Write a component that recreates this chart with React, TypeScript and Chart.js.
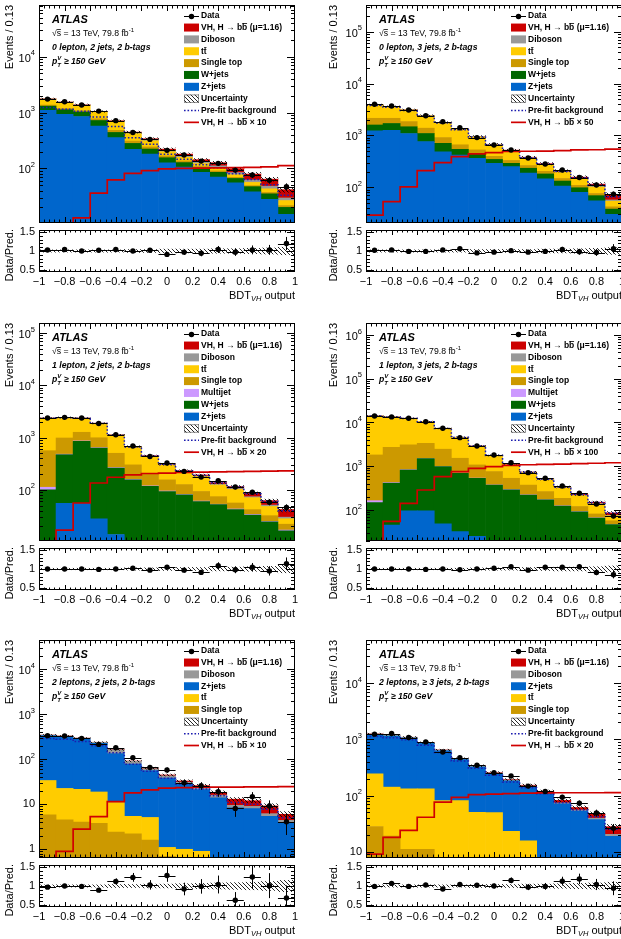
import React, { useEffect, useRef } from 'react';
import { Chart, registerables } from 'chart.js';

Chart.register(...registerables);

/* ================= Binning: BDT_VH output, 15 bins of 0.133 ================= */
const BIN_EDGES = [-1, -0.8667, -0.7333, -0.6, -0.4667, -0.3333, -0.2, -0.0667, 0.0667, 0.2, 0.3333, 0.4667, 0.6, 0.7333, 0.8667, 1];
const BIN_CENTERS = [-0.9333, -0.8, -0.6667, -0.5333, -0.4, -0.2667, -0.1333, 0, 0.1333, 0.2667, 0.4, 0.5333, 0.6667, 0.8, 0.9333];
const X_TICK_VALUES = [-1, -0.8, -0.6, -0.4, -0.2, 0, 0.2, 0.4, 0.6, 0.8, 1];
const X_TICK_LABELS = ['−1', '−0.8', '−0.6', '−0.4', '−0.2', '0', '0.2', '0.4', '0.6', '0.8', '1'];
const RATIO_TICK_VALUES = [0.5, 1, 1.5];
const RATIO_TICK_LABELS = ['0.5', '1', '1.5'];

/* ================= Panel 1: 0 lepton, 2 jets ================= */
const P1_DATA = [1740, 1560, 1360, 1060, 715, 440, 330, 210, 173, 135, 123, 93, 76, 61, 47];
const P1_ZJETS = [1100, 930, 850, 570, 355, 220, 180, 125, 105, 85, 70, 55, 38, 28, 15];
const P1_WJETS = [200, 190, 170, 150, 85, 60, 42, 30, 22, 17, 15, 11, 9, 7, 5];
const P1_STOP = [60, 60, 55, 50, 40, 28, 20, 12, 9, 6, 5, 3, 2, 2, 1.5];
const P1_TTBAR = [370, 330, 270, 240, 200, 110, 70, 32, 22, 14, 12, 8, 7, 6, 5];
const P1_DIBOSON = [25, 25, 25, 25, 22, 18, 15, 10, 10, 9, 9, 7, 6, 5, 3];
const P1_VH = [5, 7, 8, 8, 10, 10, 12, 12, 12, 12, 15, 14, 17, 16, 12];
const P1_SIGNAL = [3, 8, 13, 36, 62, 81, 91, 98, 100, 101, 102, 103, 104, 106, 112];
const P1_PREFIT = [1230, 1150, 1050, 830, 560, 355, 270, 178, 146, 116, 102, 80, 63, 51, 33];
const P1_UNC = [0.03, 0.03, 0.03, 0.03, 0.03, 0.04, 0.04, 0.05, 0.05, 0.05, 0.06, 0.06, 0.07, 0.08, 0.1];
const P1_RATIO = [1.03, 1.04, 1.0, 1.02, 1.04, 1.0, 1.02, 0.91, 0.97, 0.94, 1.04, 0.97, 1.03, 1.03, 1.2];

/* ================= Panel 2: 0 lepton, 3 jets ================= */
const P2_DATA = [3980, 3700, 3100, 2400, 1840, 1410, 908, 655, 525, 368, 282, 216, 154, 111, 74];
const P2_ZJETS = [1230, 1260, 1090, 760, 485, 420, 362, 290, 250, 187, 145, 105, 80, 55, 30];
const P2_WJETS = [360, 440, 380, 330, 220, 120, 90, 55, 40, 46, 36, 27, 18, 14, 8];
const P2_STOP = [550, 440, 380, 290, 205, 120, 75, 50, 40, 30, 22, 16, 11, 7, 4];
const P2_TTBAR = [1718, 1410, 1243, 1010, 846, 645, 406, 260, 172, 101, 67, 46, 35, 25, 12];
const P2_DIBOSON = [40, 40, 35, 30, 25, 20, 15, 12, 10, 8, 7, 6, 5, 4, 3];
const P2_VH = [2, 2, 3, 4, 5, 5, 7, 8, 8, 8, 8, 8, 8, 10, 15];
const P2_SIGNAL = [29, 53, 102, 210, 300, 390, 440, 465, 490, 495, 500, 510, 525, 530, 546];
const P2_PREFIT = [3780, 3480, 3030, 2350, 1740, 1290, 930, 655, 505, 370, 277, 202, 152, 110, 66];
const P2_UNC = [0.03, 0.03, 0.03, 0.03, 0.03, 0.03, 0.04, 0.04, 0.04, 0.04, 0.05, 0.05, 0.06, 0.07, 0.09];
const P2_RATIO = [1.02, 1.03, 0.99, 0.99, 1.03, 1.06, 0.95, 0.97, 1.01, 0.97, 0.99, 1.04, 0.98, 0.96, 1.06];

/* ================= Panel 3: 1 lepton, 2 jets ================= */
const P3_DATA = [2360, 2430, 2360, 1860, 1130, 687, 435, 325, 225, 175, 149, 113, 90, 58, 46];
const P3_ZJETS = [3, 55, 55, 28, 14, 5, 3, 2, 2, 1.5, 1, 1, 0.8, 0.5, 0.5];
const P3_WJETS = [97, 415, 795, 602, 246, 150, 113, 91, 78, 58, 51, 41, 32, 24, 16];
const P3_MULTIJET = [12, 10, 12, 10, 6, 4, 3, 2, 2, 1.5, 1, 1, 1, 0.5, 0.5];
const P3_STOP = [448, 500, 398, 350, 234, 141, 86, 60, 44, 32, 21, 13, 8, 7, 5];
const P3_TTBAR = [1782, 1431, 1080, 869, 611, 357, 227, 141, 93, 86, 50, 46, 29, 16, 6];
const P3_DIBOSON = [15, 15, 15, 15, 12, 10, 8, 6, 5, 5, 4, 4, 3, 3, 2];
const P3_VH = [3, 4, 5, 6, 7, 7, 8, 8, 8, 8, 9, 9, 12, 11, 12];
const P3_SIGNAL = [4, 17, 56, 135, 174, 193, 205, 208, 215, 218, 220, 222, 225, 228, 230];
const P3_PREFIT = [2330, 2400, 2330, 1850, 1110, 660, 440, 305, 228, 188, 135, 113, 84, 60, 40];
const P3_UNC = [0.02, 0.02, 0.02, 0.02, 0.02, 0.03, 0.03, 0.04, 0.04, 0.04, 0.05, 0.05, 0.06, 0.07, 0.1];
const P3_RATIO = [1.0, 1.0, 1.0, 0.99, 1.0, 1.02, 0.97, 1.05, 0.97, 0.91, 1.09, 0.98, 1.05, 0.95, 1.14];

/* ================= Panel 4: 1 lepton, 3 jets ================= */
const P4_DATA = [14100, 13400, 12500, 10400, 7360, 4500, 2900, 1810, 1200, 713, 530, 353, 241, 137, 73];
const P4_ZJETS = [2, 45, 95, 95, 48, 32, 25, 12, 8, 6, 5, 4, 3, 2, 1];
const P4_WJETS = [146, 365, 725, 1405, 932, 658, 505, 358, 282, 214, 165, 119, 88, 63, 45];
const P4_MULTIJET = [15, 12, 15, 15, 12, 8, 5, 4, 3, 2, 2, 1.5, 1, 1, 0.5];
const P4_STOP = [1647, 2278, 2245, 1815, 1458, 822, 535, 381, 237, 148, 91, 60, 28, 15, 10];
const P4_TTBAR = [12227, 10636, 9360, 7114, 4862, 3032, 1801, 996, 581, 348, 226, 136, 93, 56, 17];
const P4_DIBOSON = [60, 60, 55, 50, 40, 30, 20, 15, 10, 8, 6, 5, 4, 3, 2];
const P4_VH = [3, 4, 5, 6, 8, 8, 9, 9, 9, 9, 10, 10, 10, 10, 10];
const P4_SIGNAL = [5, 55, 142, 286, 580, 750, 890, 980, 1050, 1080, 1100, 1120, 1150, 1170, 1200];
const P4_PREFIT = [14000, 13300, 12400, 10400, 7300, 4550, 2880, 1760, 1120, 725, 500, 333, 225, 148, 85];
const P4_UNC = [0.02, 0.02, 0.02, 0.02, 0.02, 0.02, 0.03, 0.03, 0.03, 0.04, 0.04, 0.05, 0.05, 0.06, 0.08];
const P4_RATIO = [1.0, 1.0, 1.0, 0.99, 1.0, 0.98, 1.0, 1.02, 1.06, 0.97, 1.05, 1.05, 1.06, 0.91, 0.85];

/* ================= Panel 5: 2 leptons, 2 jets ================= */
const P5_DATA = [336, 330, 293, 215, 182, 109, 66, 58, 30, 26, 19, 8.1, 14.8, 9.2, 4.1];
const P5_STOP = [5.8, 4.5, 4, 3.8, 2.4, 2.2, 1.6, 0.7, 0.6, 0.5, 0.4, 0.3, 0.3, 0.2, 0.2];
const P5_TTBAR = [28, 18, 17.5, 15, 8.6, 3.2, 3.5, 0.4, 0.4, 0.4, 0.2, 0.1, 0.1, 0.1, 0.1];
const P5_ZJETS = [302, 297, 264, 208, 123, 73, 51, 37, 27, 20.4, 13.4, 7.9, 7.6, 5.1, 3.6];
const P5_DIBOSON = [10, 10, 10, 12, 30, 12, 6, 5, 3, 2.5, 2, 1.2, 1, 0.8, 0.5];
const P5_VH = [0.3, 0.5, 0.6, 0.8, 1, 1.2, 1.5, 1.8, 2, 2.2, 2.5, 3.5, 3, 3, 1.6];
const P5_SIGNAL = [0.3, 0.9, 2.8, 5.3, 11.5, 18, 21, 23, 23.5, 24, 24, 24.2, 24.4, 24.5, 24.6];
const P5_PREFIT = [290, 280, 250, 200, 140, 78, 54, 38, 28, 22, 15.5, 11, 10, 7.8, 5];
const P5_UNC = [0.03, 0.03, 0.03, 0.03, 0.04, 0.04, 0.05, 0.05, 0.06, 0.07, 0.08, 0.09, 0.1, 0.12, 0.15];
const P5_RATIO = [0.97, 1.0, 0.99, 0.89, 1.12, 1.23, 1.03, 1.28, 0.92, 0.99, 1.04, 0.62, 1.24, 1.01, 0.68];

/* ================= Panel 6: 2 leptons, >=3 jets ================= */
const P6_DATA = [1240, 1270, 1080, 902, 597, 473, 345, 255, 222, 147, 118, 93, 73, 49, 26];
const P6_STOP = [28, 19, 11, 11, 5, 4, 3, 2.5, 2, 1.5, 1, 0.8, 0.6, 0.4, 0.3];
const P6_TTBAR = [216, 122, 121, 121, 76, 77, 47, 47, 21, 14, 6, 5, 3, 2, 1.5];
const P6_ZJETS = [968, 1005, 928, 717, 546, 357, 273, 195, 160, 128, 103, 65, 49, 35, 17];
const P6_DIBOSON = [40, 40, 30, 25, 20, 15, 12, 8, 6, 5, 4, 3, 2.5, 2, 1.5];
const P6_VH = [1, 1, 1.5, 2, 2, 2.5, 3, 3, 3.5, 4, 5, 8, 6, 8, 7.5];
const P6_SIGNAL = [9, 18, 24, 41, 76, 93, 104, 106, 108, 110, 111, 112, 112, 112, 113];
const P6_PREFIT = [1130, 1070, 985, 790, 585, 410, 305, 230, 174, 137, 107, 74, 55, 42, 25];
const P6_UNC = [0.03, 0.03, 0.03, 0.03, 0.03, 0.03, 0.04, 0.04, 0.04, 0.05, 0.05, 0.06, 0.07, 0.08, 0.1];
const P6_RATIO = [0.99, 1.07, 0.99, 1.03, 0.92, 1.04, 1.02, 1.0, 1.15, 0.97, 0.99, 1.13, 1.19, 1.04, 0.94];

/* ================= Styles ================= */
const FONT_FAMILY = "'Liberation Sans', Arial, Helvetica, sans-serif";
const font = (size: number, style = '') => `${style} ${size}px ${FONT_FAMILY}`.trim();

const COLORS = {
  vh: '#cc0000',
  diboson: '#999999',
  ttbar: '#ffcc00',
  stop: '#cc9900',
  multijet: '#cc99ff',
  wjets: '#006600',
  zjets: '#0066cc',
  signal: '#d00000',
  prefit: '#1c1cb0',
};

type Seg = { t: string; size?: number; style?: string; dy?: number; bar?: boolean; hold?: boolean };

const COMPONENTS: Record<string, { color: string; label: Seg[] }> = {
  vh: { color: COLORS.vh, label: [{ t: 'VH, H → b' }, { t: 'b', bar: true }, { t: ' (μ=1.16)' }] },
  diboson: { color: COLORS.diboson, label: [{ t: 'Diboson' }] },
  ttbar: { color: COLORS.ttbar, label: [{ t: 't' }, { t: 't', bar: true }] },
  stop: { color: COLORS.stop, label: [{ t: 'Single top' }] },
  multijet: { color: COLORS.multijet, label: [{ t: 'Multijet' }] },
  wjets: { color: COLORS.wjets, label: [{ t: 'W+jets' }] },
  zjets: { color: COLORS.zjets, label: [{ t: 'Z+jets' }] },
};

/* ================= Panels ================= */
const PANELS = [
  {
    col: 0, row: 0, region: '0 lepton, 2 jets, 2 b-tags', sigScale: '10', yMin: 10.5, yMax: 84300,
    stack: [
      { name: 'zjets', values: P1_ZJETS }, { name: 'wjets', values: P1_WJETS }, { name: 'stop', values: P1_STOP },
      { name: 'ttbar', values: P1_TTBAR }, { name: 'diboson', values: P1_DIBOSON }, { name: 'vh', values: P1_VH },
    ],
    data: P1_DATA, ratio: P1_RATIO, unc: P1_UNC, prefit: P1_PREFIT, signal: P1_SIGNAL,
  },
  {
    col: 1, row: 0, region: '0 lepton, 3 jets, 2 b-tags', sigScale: '50', yMin: 20.5, yMax: 327000,
    stack: [
      { name: 'zjets', values: P2_ZJETS }, { name: 'wjets', values: P2_WJETS }, { name: 'stop', values: P2_STOP },
      { name: 'ttbar', values: P2_TTBAR }, { name: 'diboson', values: P2_DIBOSON }, { name: 'vh', values: P2_VH },
    ],
    data: P2_DATA, ratio: P2_RATIO, unc: P2_UNC, prefit: P2_PREFIT, signal: P2_SIGNAL,
  },
  {
    col: 0, row: 1, region: '1 lepton, 2 jets, 2 b-tags', sigScale: '20', yMin: 10.5, yMax: 155000,
    stack: [
      { name: 'zjets', values: P3_ZJETS }, { name: 'wjets', values: P3_WJETS }, { name: 'multijet', values: P3_MULTIJET },
      { name: 'stop', values: P3_STOP }, { name: 'ttbar', values: P3_TTBAR }, { name: 'diboson', values: P3_DIBOSON },
      { name: 'vh', values: P3_VH },
    ],
    data: P3_DATA, ratio: P3_RATIO, unc: P3_UNC, prefit: P3_PREFIT, signal: P3_SIGNAL,
  },
  {
    col: 1, row: 1, region: '1 lepton, 3 jets, 2 b-tags', sigScale: '100', yMin: 19.5, yMax: 1880000,
    stack: [
      { name: 'zjets', values: P4_ZJETS }, { name: 'wjets', values: P4_WJETS }, { name: 'multijet', values: P4_MULTIJET },
      { name: 'stop', values: P4_STOP }, { name: 'ttbar', values: P4_TTBAR }, { name: 'diboson', values: P4_DIBOSON },
      { name: 'vh', values: P4_VH },
    ],
    data: P4_DATA, ratio: P4_RATIO, unc: P4_UNC, prefit: P4_PREFIT, signal: P4_SIGNAL,
  },
  {
    col: 0, row: 2, region: '2 leptons, 2 jets, 2 b-tags', sigScale: '10', yMin: 0.64, yMax: 45000,
    stack: [
      { name: 'stop', values: P5_STOP }, { name: 'ttbar', values: P5_TTBAR }, { name: 'zjets', values: P5_ZJETS },
      { name: 'diboson', values: P5_DIBOSON }, { name: 'vh', values: P5_VH },
    ],
    data: P5_DATA, ratio: P5_RATIO, unc: P5_UNC, prefit: P5_PREFIT, signal: P5_SIGNAL,
  },
  {
    col: 1, row: 2, region: '2 leptons, ≥ 3 jets, 2 b-tags', sigScale: '20', yMin: 7.7, yMax: 59000,
    stack: [
      { name: 'stop', values: P6_STOP }, { name: 'ttbar', values: P6_TTBAR }, { name: 'zjets', values: P6_ZJETS },
      { name: 'diboson', values: P6_DIBOSON }, { name: 'vh', values: P6_VH },
    ],
    data: P6_DATA, ratio: P6_RATIO, unc: P6_UNC, prefit: P6_PREFIT, signal: P6_SIGNAL,
  },
];

/* ================= Layout ================= */
const COL_X = [0, 310];
const COL_W = [310, 320];
const FRAME_LEFT = [39, 366];
const YTITLE_X = [10, 334];
const ROW_TOP = [5, 323, 640];
const FRAME_W = 256;
const MAIN_H = 218;
const RATIO_OFFSET = 225;
const RATIO_H = 42;
const PAD_T = 5;
const RATIO_MIN = 0.44;
const RATIO_MAX = 1.56;
const STACK_FLOOR = 1e-3;

/* ================= Helpers ================= */
function makeHatch(target: CanvasRenderingContext2D) {
  const c = document.createElement('canvas');
  c.width = 4; c.height = 4;
  const g = c.getContext('2d')!;
  g.strokeStyle = '#000';
  g.lineWidth = 0.85;
  g.beginPath();
  g.moveTo(-1, -1); g.lineTo(5, 5);
  g.moveTo(-1, 3); g.lineTo(1, 5);
  g.moveTo(3, -1); g.lineTo(5, 1);
  g.stroke();
  return target.createPattern(c, 'repeat');
}

function stepPoints(values: number[]) {
  return BIN_EDGES.map((x, i) => ({ x, y: values[Math.min(i, values.length - 1)] }));
}

function stackLayers(stack: { name: string; values: number[] }[]) {
  const run = BIN_CENTERS.map(() => 0);
  const layers = stack.map((s) => {
    const seg = s.values.map((v, i) => {
      const lo = run[i];
      run[i] = lo + v;
      return [lo > 0 ? lo : STACK_FLOOR, run[i]];
    });
    return { name: s.name, seg };
  });
  return { layers, totals: run.slice() };
}

function measureSegs(ctx: CanvasRenderingContext2D, segs: Seg[], baseSize: number, baseStyle: string) {
  let w = 0, held = 0;
  for (const s of segs) {
    ctx.font = font(s.size ?? baseSize, s.style ?? baseStyle);
    const sw = ctx.measureText(s.t).width;
    if (s.hold) held = sw; else { w += Math.max(sw, held); held = 0; }
  }
  return w;
}

function drawSegs(ctx: CanvasRenderingContext2D, segs: Seg[], x: number, y: number, baseSize: number, baseStyle: string) {
  let cx = x, held = 0;
  ctx.textAlign = 'left';
  ctx.textBaseline = 'middle';
  for (const s of segs) {
    const size = s.size ?? baseSize;
    ctx.font = font(size, s.style ?? baseStyle);
    const w = ctx.measureText(s.t).width;
    const yy = y + (s.dy || 0);
    ctx.fillText(s.t, cx, yy);
    if (s.bar) {
      const by = Math.round(yy - size * 0.55) + 0.5;
      ctx.save();
      ctx.lineWidth = 0.8;
      ctx.strokeStyle = ctx.fillStyle as string;
      ctx.beginPath(); ctx.moveTo(cx + 0.3, by); ctx.lineTo(cx + w - 0.2, by); ctx.stroke();
      ctx.restore();
    }
    if (s.hold) held = w; else { cx += Math.max(w, held); held = 0; }
  }
  return cx - x;
}

function line(ctx: CanvasRenderingContext2D, x1: number, y1: number, x2: number, y2: number) {
  ctx.beginPath(); ctx.moveTo(x1, y1); ctx.lineTo(x2, y2); ctx.stroke();
}

function drawFrame(ctx: CanvasRenderingContext2D, a: any) {
  ctx.strokeStyle = '#000';
  ctx.lineWidth = 1;
  ctx.setLineDash([]);
  ctx.strokeRect(Math.round(a.left) + 0.5, Math.round(a.top) + 0.5, Math.round(a.right - a.left) - 1, Math.round(a.bottom - a.top) - 1);
}

function drawXTicks(ctx: CanvasRenderingContext2D, x: any, a: any, major: number, minor: number) {
  ctx.lineWidth = 1;
  for (let k = 0; k <= 50; k++) {
    const v = -1 + k * 0.04;
    const len = k % 5 === 0 ? major : minor;
    const px = Math.min(Math.round(x.getPixelForValue(v)), Math.round(a.right) - 1) + 0.5;
    line(ctx, px, a.bottom, px, a.bottom - len);
    line(ctx, px, a.top, px, a.top + len);
  }
}

function drawYTickAt(ctx: CanvasRenderingContext2D, py: number, a: any, len: number) {
  const yy = Math.round(py) + 0.5;
  line(ctx, a.left, yy, a.left + len, yy);
  line(ctx, a.right, yy, a.right - len, yy);
}

function drawYTitle(ctx: CanvasRenderingContext2D, text: string, x: number, yTop: number) {
  ctx.save();
  ctx.translate(x, yTop);
  ctx.rotate(-Math.PI / 2);
  ctx.font = font(11);
  ctx.fillStyle = '#000';
  ctx.textAlign = 'right';
  ctx.textBaseline = 'middle';
  ctx.fillText(text, 0, 0);
  ctx.restore();
}

function drawErrorCross(ctx: CanvasRenderingContext2D, x: any, y: any, i: number, v: number, lo: number, hi: number, a: any) {
  const xl = x.getPixelForValue(BIN_EDGES[i]);
  const xr = x.getPixelForValue(BIN_EDGES[i + 1]);
  const xc = Math.round(x.getPixelForValue(BIN_CENTERS[i])) + 0.5;
  const yc = Math.round(y.getPixelForValue(v)) + 0.5;
  const yl = lo > 0 ? y.getPixelForValue(lo) : a.bottom + 5;
  const yh = y.getPixelForValue(hi);
  ctx.beginPath();
  ctx.moveTo(xl, yc); ctx.lineTo(xr, yc);
  ctx.moveTo(xc, yl); ctx.lineTo(xc, yh);
  ctx.stroke();
}

/* ================= Plugins ================= */
function mainPlugin(p: any, hatch: any, titleX: number) {
  return {
    id: 'atlasMain',
    afterDatasetsDraw(chart: any) {
      const { ctx, chartArea: a } = chart;
      const x = chart.scales.x, y = chart.scales.y;
      ctx.save();
      ctx.beginPath(); ctx.rect(a.left, a.top, a.right - a.left, a.bottom - a.top); ctx.clip();
      ctx.strokeStyle = '#000'; ctx.lineWidth = 1; ctx.setLineDash([]);
      p.data.forEach((d: number, i: number) => {
        const e = Math.sqrt(d);
        drawErrorCross(ctx, x, y, i, d, d - e, d + e, a);
      });
      ctx.restore();
    },
    afterDraw(chart: any) {
      const { ctx, chartArea: a } = chart;
      const x = chart.scales.x, y = chart.scales.y;
      ctx.save();
      ctx.fillStyle = '#000';
      drawFrame(ctx, a);
      drawXTicks(ctx, x, a, 6, 3.5);
      // log ticks
      const e0 = Math.floor(Math.log10(p.yMin)), e1 = Math.ceil(Math.log10(p.yMax));
      for (let e = e0; e <= e1; e++) {
        for (let m = 1; m <= 9; m++) {
          const v = m * Math.pow(10, e);
          if (v < p.yMin || v > p.yMax) continue;
          drawYTickAt(ctx, y.getPixelForValue(v), a, m === 1 ? 8 : 4);
        }
        const v = Math.pow(10, e);
        if (v < p.yMin || v > p.yMax) continue;
        const py = y.getPixelForValue(v);
        const xr = a.left - 4;
        ctx.textBaseline = 'middle';
        if (e <= 1) {
          ctx.font = font(11); ctx.textAlign = 'right';
          ctx.fillText(e === 0 ? '1' : '10', xr, py);
        } else {
          ctx.font = font(7.5);
          const es = String(e);
          const ws = ctx.measureText(es).width;
          ctx.textAlign = 'left';
          ctx.fillText(es, xr - ws, py - 3.5);
          ctx.font = font(11); ctx.textAlign = 'right';
          ctx.fillText('10', xr - ws, py + 2);
        }
      }
      drawYTitle(ctx, 'Events / 0.13', titleX, a.top);

      // ATLAS labels
      const x0 = a.left + 13;
      ctx.textAlign = 'left'; ctx.textBaseline = 'middle';
      ctx.font = font(11, 'italic bold');
      ctx.fillText('ATLAS', x0, a.top + 15);
      drawSegs(ctx, [{ t: '√' }, { t: 's', bar: true }, { t: ' = 13 TeV, 79.8 fb' }, { t: '-1', size: 6, dy: -3.5 }], x0, a.top + 29, 8.7, '');
      drawSegs(ctx, [{ t: p.region }], x0, a.top + 43, 8.7, 'italic bold');
      drawSegs(ctx, [
        { t: 'p' },
        { t: 'V', size: 6, dy: -3.5, hold: true },
        { t: 'T', size: 6, dy: 3 },
        { t: ' ≥ 150 GeV' },
      ], x0, a.top + 57, 8.7, 'italic bold');

      // legend
      const entries: any[] = [{ kind: 'data', label: [{ t: 'Data' }] }];
      p.stack.slice().reverse().forEach((s: any) => entries.push({ kind: 'box', color: COMPONENTS[s.name].color, label: COMPONENTS[s.name].label }));
      entries.push({ kind: 'hatch', label: [{ t: 'Uncertainty' }] });
      entries.push({ kind: 'dotted', label: [{ t: 'Pre-fit background' }] });
      entries.push({ kind: 'line', label: [{ t: 'VH, H → b' }, { t: 'b', bar: true }, { t: ' × ' + p.sigScale }] });
      const bx = a.left + 145, bw = 15, bh = 8, tx = a.left + 162;
      entries.forEach((en, i) => {
        const cy = a.top + 10.7 + i * 11.85;
        ctx.save();
        if (en.kind === 'data') {
          ctx.strokeStyle = '#000'; ctx.lineWidth = 1;
          line(ctx, bx, Math.round(cy) + 0.5, bx + bw, Math.round(cy) + 0.5);
          ctx.fillStyle = '#000';
          ctx.beginPath(); ctx.arc(bx + bw / 2, Math.round(cy) + 0.5, 2.7, 0, Math.PI * 2); ctx.fill();
        } else if (en.kind === 'box') {
          ctx.fillStyle = en.color;
          ctx.fillRect(bx, cy - bh / 2, bw, bh);
        } else if (en.kind === 'hatch') {
          ctx.fillStyle = '#fff';
          ctx.fillRect(bx, cy - bh / 2, bw, bh);
          ctx.fillStyle = hatch;
          ctx.fillRect(bx, cy - bh / 2, bw, bh);
          ctx.strokeStyle = '#555'; ctx.lineWidth = 0.6;
          ctx.strokeRect(bx + 0.3, cy - bh / 2 + 0.3, bw - 0.6, bh - 0.6);
        } else if (en.kind === 'dotted') {
          ctx.strokeStyle = COLORS.prefit; ctx.lineWidth = 1.5; ctx.setLineDash([1.6, 1.9]);
          line(ctx, bx, cy, bx + bw, cy);
        } else if (en.kind === 'line') {
          ctx.strokeStyle = COLORS.signal; ctx.lineWidth = 1.7;
          line(ctx, bx, cy, bx + bw, cy);
        }
        ctx.restore();
        ctx.fillStyle = '#000';
        drawSegs(ctx, en.label, tx, cy, 8.5, 'bold');
      });
      ctx.restore();
    },
  };
}

function ratioPlugin(p: any, titleX: number) {
  return {
    id: 'atlasRatio',
    afterDatasetsDraw(chart: any) {
      const { ctx, chartArea: a } = chart;
      const x = chart.scales.x, y = chart.scales.y;
      ctx.save();
      ctx.beginPath(); ctx.rect(a.left, a.top, a.right - a.left, a.bottom - a.top); ctx.clip();
      ctx.strokeStyle = '#000'; ctx.lineWidth = 1; ctx.setLineDash([]);
      p.ratio.forEach((r: number, i: number) => {
        const e = r / Math.sqrt(p.data[i]);
        drawErrorCross(ctx, x, y, i, r, r - e, r + e, a);
      });
      ctx.restore();
    },
    afterDraw(chart: any) {
      const { ctx, chartArea: a } = chart;
      const x = chart.scales.x, y = chart.scales.y;
      ctx.save();
      ctx.fillStyle = '#000';
      drawFrame(ctx, a);
      drawXTicks(ctx, x, a, 5, 2.5);
      for (let k = 0; k <= 10; k++) {
        const v = 0.5 + k * 0.1;
        drawYTickAt(ctx, y.getPixelForValue(v), a, k % 5 === 0 ? 8 : 4);
      }
      ctx.font = font(11);
      ctx.textBaseline = 'middle';
      ctx.textAlign = 'right';
      RATIO_TICK_VALUES.forEach((v, i) => ctx.fillText(RATIO_TICK_LABELS[i], a.left - 4, y.getPixelForValue(v)));
      ctx.textAlign = 'center';
      X_TICK_VALUES.forEach((v, i) => ctx.fillText(X_TICK_LABELS[i], x.getPixelForValue(v), a.bottom + 10));
      const title: Seg[] = [{ t: 'BDT' }, { t: 'VH', size: 7.5, style: 'italic', dy: 3 }, { t: ' output' }];
      const w = measureSegs(ctx, title, 11, '');
      ctx.fillStyle = '#000';
      drawSegs(ctx, title, a.right - w, a.bottom + 24, 11, '');
      drawYTitle(ctx, 'Data/Pred.', titleX, a.top - 1);
      ctx.restore();
    },
  };
}

/* ================= Chart configs ================= */
const BAR_COMMON = { borderWidth: 0, grouped: false, barPercentage: 1, categoryPercentage: 1 };

function baseOptions(padding: any, yScale: any) {
  return {
    responsive: false,
    animation: false,
    devicePixelRatio: 1,
    events: [],
    layout: { padding },
    plugins: { legend: { display: false }, tooltip: { enabled: false }, title: { display: false } },
    scales: {
      x: { type: 'linear', min: -1, max: 1, offset: false, bounds: 'data', display: false, ticks: { stepSize: 0.5 } },
      y: yScale,
    },
  };
}

function buildMainConfig(p: any, frameL: number, colW: number, h: number, hatch: any, titleX: number) {
  const { layers, totals } = stackLayers(p.stack);
  const datasets: any[] = [
    {
      type: 'line', data: BIN_CENTERS.map((x, i) => ({ x, y: p.data[i] })), showLine: false,
      pointRadius: 2.7, pointHoverRadius: 2.7, pointBackgroundColor: '#000', pointBorderWidth: 0, order: 0,
    },
    {
      type: 'line', data: stepPoints(p.signal), stepped: 'before', borderColor: COLORS.signal, borderWidth: 1.7,
      pointRadius: 0, fill: false, order: 1,
    },
    {
      type: 'line', data: stepPoints(p.prefit), stepped: 'before', borderColor: COLORS.prefit, borderWidth: 1.5,
      borderDash: [1.6, 1.9], pointRadius: 0, fill: false, order: 2,
    },
    {
      type: 'bar', ...BAR_COMMON, backgroundColor: hatch, order: 3,
      data: BIN_CENTERS.map((x, i) => ({ x, y: [totals[i] * (1 - p.unc[i]), totals[i] * (1 + p.unc[i])] })),
    },
    ...layers.map((l, k) => ({
      type: 'bar', ...BAR_COMMON, backgroundColor: COMPONENTS[l.name].color, order: 4 + k,
      data: BIN_CENTERS.map((x, i) => ({ x, y: l.seg[i] })),
    })),
  ];
  return {
    type: 'bar',
    data: { datasets },
    options: baseOptions(
      { left: frameL, right: colW - frameL - FRAME_W, top: PAD_T, bottom: h - PAD_T - MAIN_H },
      { type: 'logarithmic', min: p.yMin, max: p.yMax, bounds: 'data', display: false },
    ),
    plugins: [mainPlugin(p, hatch, titleX)],
  };
}

function buildRatioConfig(p: any, frameL: number, colW: number, h: number, hatch: any, titleX: number) {
  const datasets: any[] = [
    {
      type: 'line', data: BIN_CENTERS.map((x, i) => ({ x, y: p.ratio[i] })), showLine: false,
      pointRadius: 2.7, pointHoverRadius: 2.7, pointBackgroundColor: '#000', pointBorderWidth: 0, order: 0,
    },
    {
      type: 'bar', ...BAR_COMMON, backgroundColor: hatch, order: 1,
      data: BIN_CENTERS.map((x, i) => ({ x, y: [1 - p.unc[i], 1 + p.unc[i]] })),
    },
  ];
  return {
    type: 'bar',
    data: { datasets },
    options: baseOptions(
      { left: frameL, right: colW - frameL - FRAME_W, top: PAD_T, bottom: h - PAD_T - RATIO_H },
      { type: 'linear', min: RATIO_MIN, max: RATIO_MAX, bounds: 'data', display: false },
    ),
    plugins: [ratioPlugin(p, titleX)],
  };
}

/* ================= Components ================= */
function Panel({ p }: { p: any }) {
  const mainRef = useRef<HTMLCanvasElement | null>(null);
  const ratioRef = useRef<HTMLCanvasElement | null>(null);
  const colX = COL_X[p.col];
  const colW = COL_W[p.col];
  const frameL = FRAME_LEFT[p.col] - colX;
  const titleX = YTITLE_X[p.col] - colX;
  const top = ROW_TOP[p.row];
  const mainH = PAD_T + MAIN_H + 4;
  const ratioH = PAD_T + RATIO_H + 44;

  useEffect(() => {
    const mc = mainRef.current!, rc = ratioRef.current!;
    const hatchM = makeHatch(mc.getContext('2d')!);
    const hatchR = makeHatch(rc.getContext('2d')!);
    const main = new Chart(mc, buildMainConfig(p, frameL, colW, mainH, hatchM, titleX) as any);
    const ratio = new Chart(rc, buildRatioConfig(p, frameL, colW, ratioH, hatchR, titleX) as any);
    return () => { main.destroy(); ratio.destroy(); };
  }, []);

  return (
    <>
      <canvas ref={mainRef} width={colW} height={mainH}
        style={{ position: 'absolute', left: colX, top: top - PAD_T, width: colW, height: mainH }} />
      <canvas ref={ratioRef} width={colW} height={ratioH}
        style={{ position: 'absolute', left: colX, top: top + RATIO_OFFSET - PAD_T, width: colW, height: ratioH }} />
    </>
  );
}

export default function App() {
  return (
    <div style={{ position: 'fixed', left: 0, top: 0, width: 621, height: 939, overflow: 'hidden', background: '#fff' }}>
      {PANELS.map((p, i) => <Panel key={i} p={p} />)}
    </div>
  );
}
